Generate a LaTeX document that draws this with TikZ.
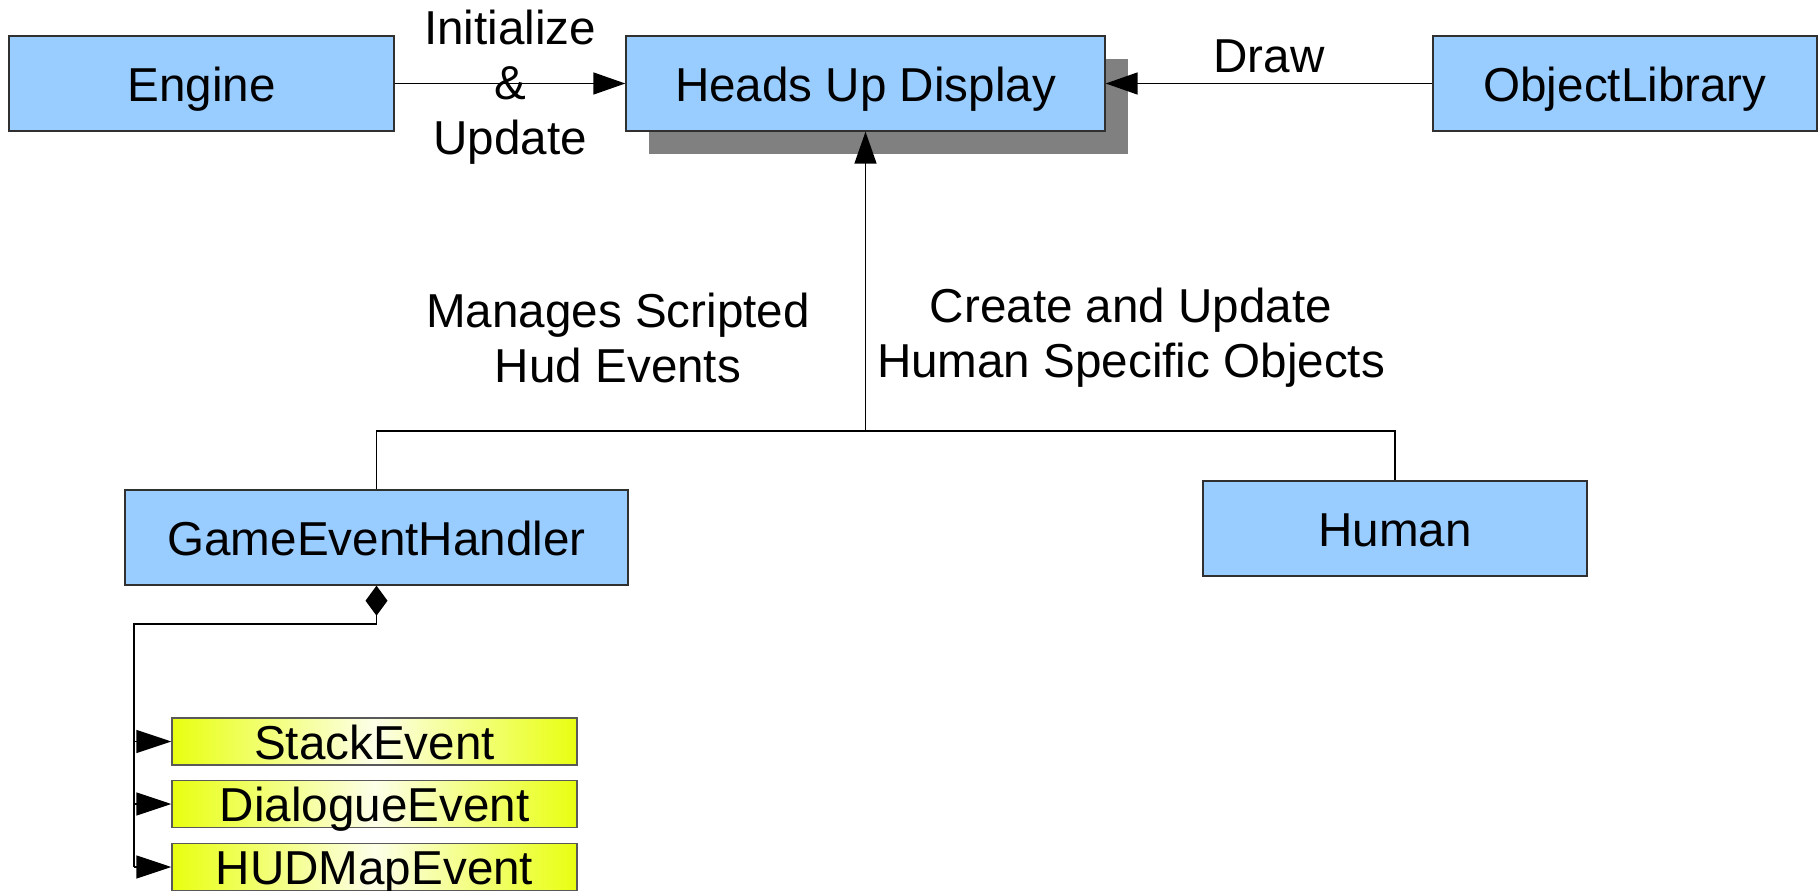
\documentclass[tikz,border=0pt]{standalone}
\usepackage{fontspec}
\setmainfont{Liberation Sans}
\usetikzlibrary{arrows.meta,shadows}
\definecolor{boxblue}{HTML}{99CCFF}
\definecolor{evyellow}{HTML}{E8FF10}
\definecolor{evlight}{HTML}{FDFFE8}
\definecolor{shadowgray}{HTML}{808080}
\definecolor{edgegray}{HTML}{303030}
\tikzset{
  classbox/.style={draw=edgegray, line width=1.4pt, fill=boxblue, minimum height=95pt,
    inner sep=0pt, text height=35pt, text depth=0pt, font=\fontsize{47.6}{55}\selectfont},
  eventbox/.style={draw=edgegray!80, line width=1.4pt, left color=evyellow, right color=evyellow,
    middle color=evlight, shading angle=90, minimum width=405pt, minimum height=47pt,
    inner sep=0pt, text height=35pt, text depth=0pt, font=\fontsize{47.6}{55}\selectfont},
  label/.style={font=\fontsize{47.6}{55}\selectfont, align=center, inner sep=0pt},
  conn/.style={line width=1.6pt, draw=black},
  arr/.style={conn, -{Triangle[length=32pt,width=22pt]}},
  evarr/.style={conn, -{Triangle[length=35pt,width=23pt]}},
  hudshadow/.style={drop shadow={shadow xshift=23pt, shadow yshift=-23pt, fill=shadowgray, opacity=1}},
}
\begin{document}
\begin{tikzpicture}[x=1pt, y=-1pt]
\useasboundingbox (0,0) rectangle (1818,891);

% top row
\node[classbox, minimum width=385pt] (engine) at (201.5,83.5) {Engine};
\node[classbox, hudshadow, minimum width=479pt] (hud) at (865.5,83.5) {Heads Up Display};
\node[classbox, minimum width=384pt] (objlib) at (1625,83.5) {ObjectLibrary};

% second row
\node[classbox, minimum width=503pt] (geh) at (376.5,537.5) {GameEventHandler};
\node[classbox, minimum width=384pt] (human) at (1395,528.5) {Human};

% scripted events
\node[eventbox] (stack) at (374.5,741.5) {StackEvent};
\node[eventbox] (dialogue) at (374.5,804) {DialogueEvent};
\node[eventbox] (mapev) at (374.5,867) {HUDMapEvent};

% connector labels
\node[label] (lblinit) at (510,87.5) {Initialize\\\&\\Update};
\node[label] (lbldraw) at (1269,56) {Draw};
\node[label] (lblmanage) at (618,338) {Manages Scripted\\Hud Events};
\node[label] (lblcreate) at (1131,338) {Create and Update\\Human Specific Objects};

% top row connectors
\draw[arr] (engine.east) -- (hud.west);
\draw[arr] (objlib.west) -- (hud.east);

% hierarchy into the display
\coordinate (junction) at (865.5,431);
\draw[conn] (geh.north) |- (junction) -| (human.north);
\draw[arr] (junction) -- (hud.south);

% composition of events
\coordinate (knee) at (376.5,624);
\coordinate (trunk) at (134,867);
\draw[conn, {Diamond[length=30pt,width=22pt]}-] (geh.south) -- (knee) -| (trunk);
\draw[evarr] (stack.west -| trunk) -- (stack.west);
\draw[evarr] (dialogue.west -| trunk) -- (dialogue.west);
\draw[evarr] (mapev.west -| trunk) -- (mapev.west);
\end{tikzpicture}
\end{document}
